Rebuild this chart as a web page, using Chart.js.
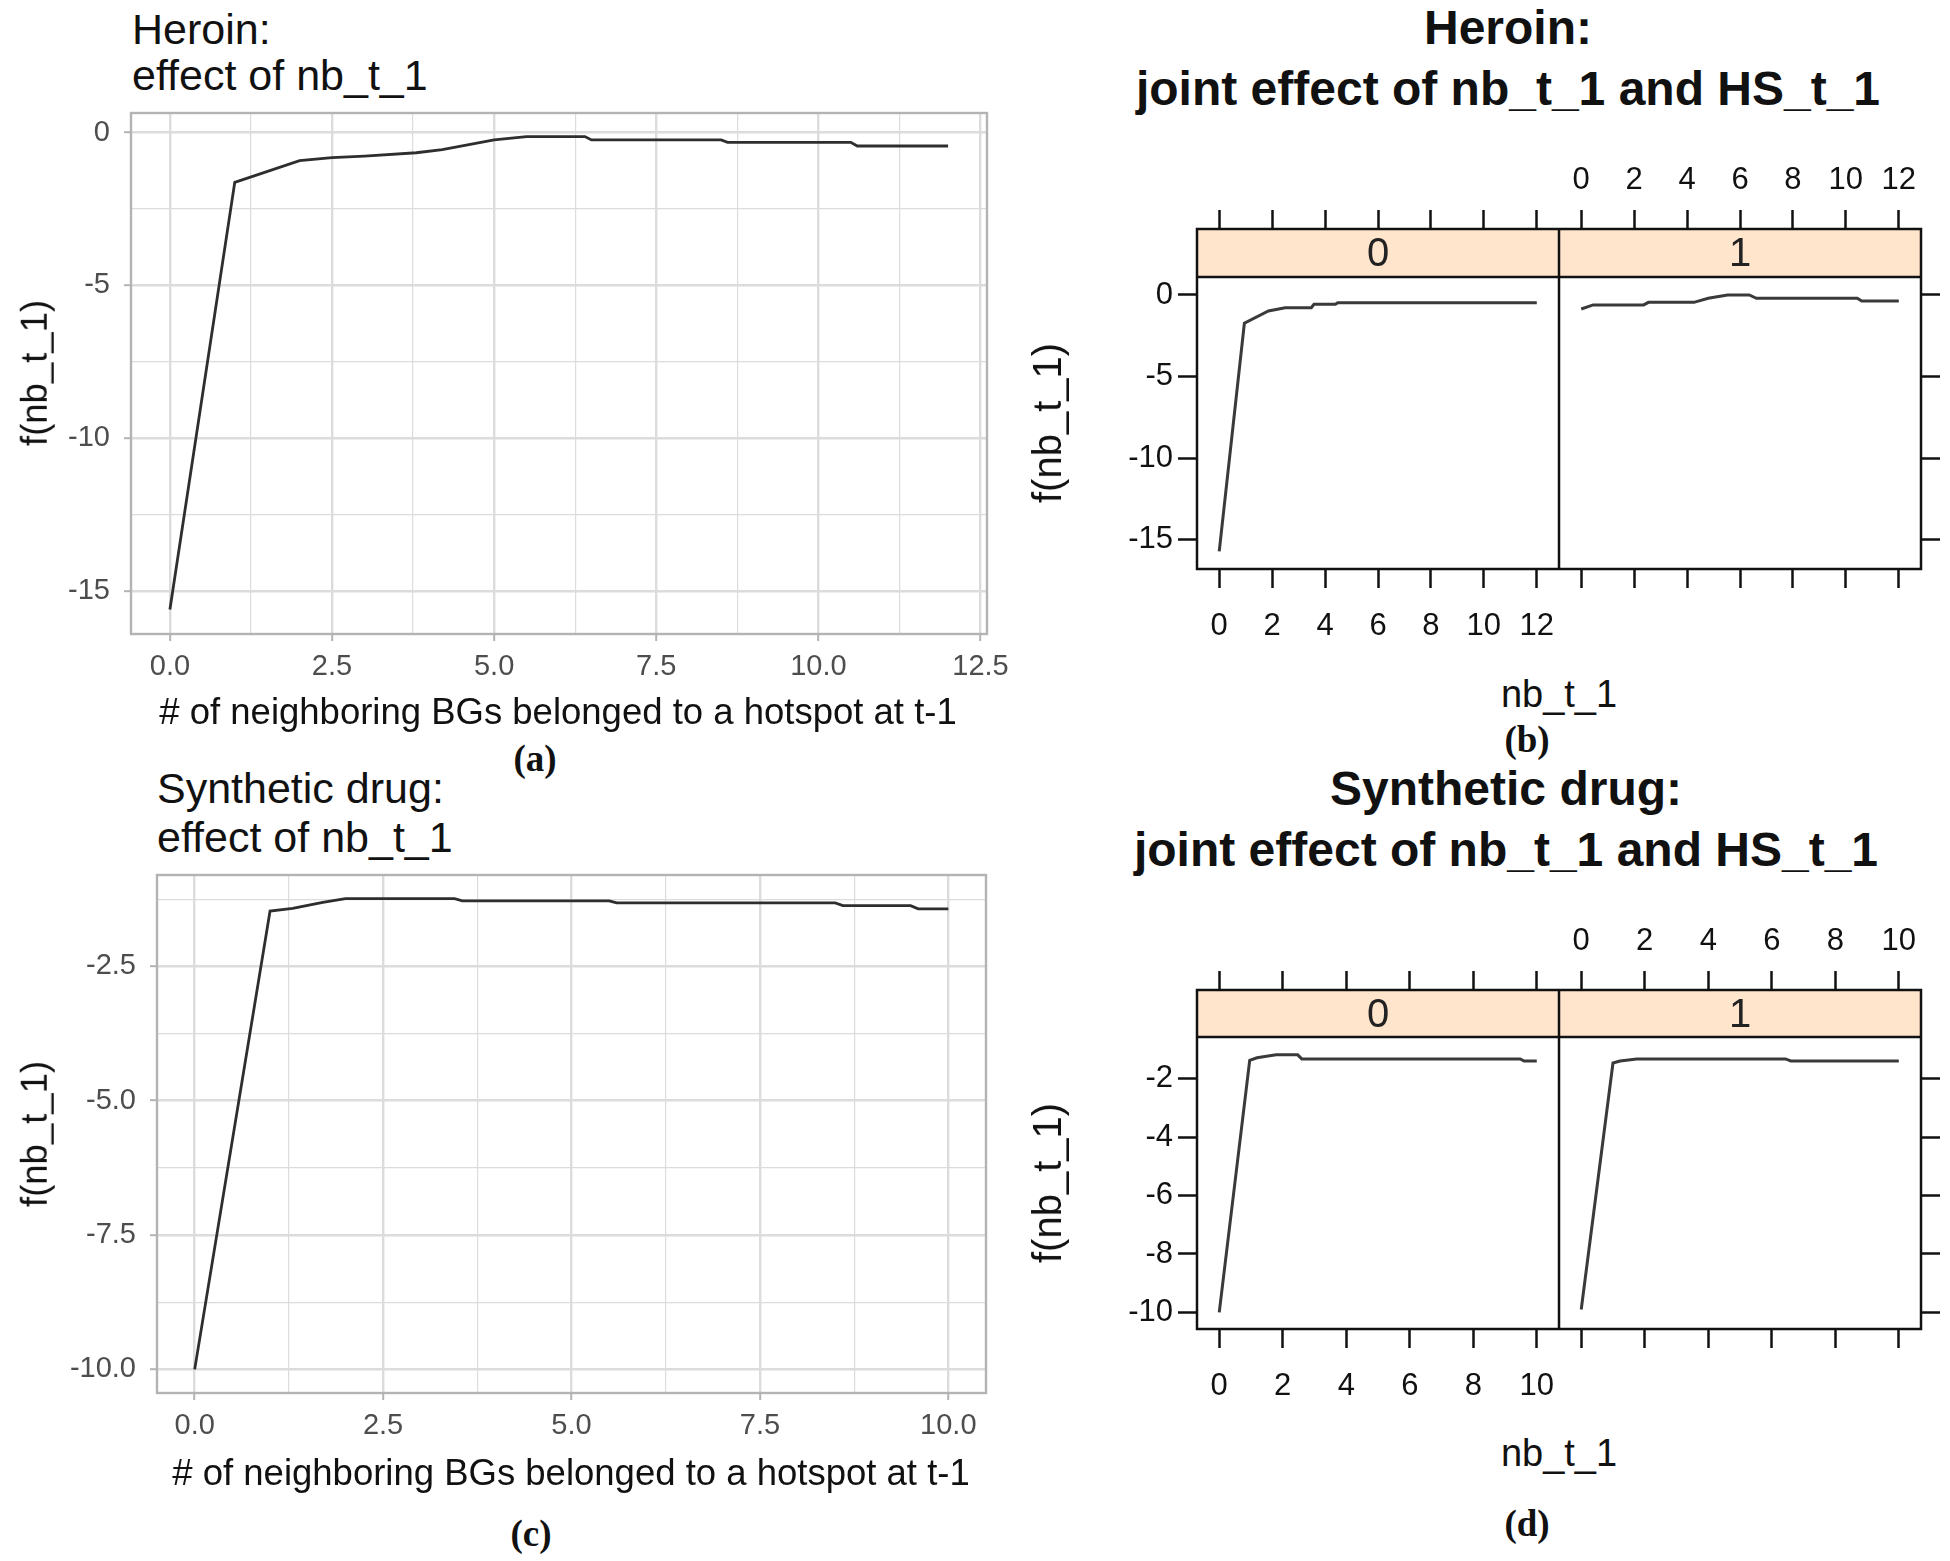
<!DOCTYPE html>
<html>
<head>
<meta charset="utf-8">
<script src="https://cdn.jsdelivr.net/npm/chart.js@4.4.0/dist/chart.umd.min.js"></script>
<style>
html, body { margin: 0; padding: 0; background: #fff; }
#page { position: relative; width: 1950px; height: 1561px; overflow: hidden; background: #fff; }
canvas { position: absolute; }
.t { position: absolute; white-space: nowrap; line-height: 1; font-family: "Liberation Sans", Arial, sans-serif; color: #111; }
</style>
</head>
<body>
<div id="page"></div>
<script>
// ---- data ----
// (a) Heroin, effect of nb_t_1
var heroinNbX = [0, 1, 2, 2.5, 3, 3.8, 4.2, 5, 5.5, 6.4, 6.5, 8.5, 8.6, 10.5, 10.6, 12];
var heroinNbY = [-15.6, -1.63, -0.92, -0.82, -0.77, -0.66, -0.56, -0.24, -0.13, -0.13, -0.24, -0.24, -0.32, -0.32, -0.44, -0.44];
// (b) Heroin, joint effect, HS_t_1 = 0 / 1
var heroinHs0X = [0, 0.95, 1.86, 2.49, 3.48, 3.58, 4.39, 4.48, 12];
var heroinHs0Y = [-15.7, -1.73, -0.98, -0.78, -0.78, -0.57, -0.57, -0.47, -0.47];
var heroinHs1X = [0, 0.45, 2.36, 2.54, 4.26, 4.8, 5.53, 6.35, 6.62, 10.43, 10.6, 12];
var heroinHs1Y = [-0.86, -0.61, -0.61, -0.45, -0.45, -0.2, 0, 0, -0.2, -0.2, -0.37, -0.37];
// (c) Synthetic drug, effect of nb_t_1
var synthNbX = [0, 1, 1.3, 1.7, 2, 3.45, 3.55, 5.5, 5.6, 8.5, 8.6, 9.5, 9.6, 10];
var synthNbY = [-10, -1.47, -1.42, -1.31, -1.24, -1.24, -1.28, -1.28, -1.32, -1.32, -1.37, -1.37, -1.43, -1.43];
// (d) Synthetic drug, joint effect, HS_t_1 = 0 / 1
var synthHs0X = [0, 0.96, 1.19, 1.79, 2.47, 2.6, 9.48, 9.6, 10];
var synthHs0Y = [-10, -1.37, -1.28, -1.18, -1.18, -1.32, -1.32, -1.39, -1.39];
var synthHs1X = [0, 1.0, 1.22, 1.75, 6.43, 6.6, 10];
var synthHs1Y = [-9.9, -1.46, -1.39, -1.32, -1.32, -1.39, -1.39];

// tick values
var xTicksA = [0, 2.5, 5, 7.5, 10, 12.5];
var yTicksA = [0, -5, -10, -15];
var xTicksC = [0, 2.5, 5, 7.5, 10];
var yTicksC = [-2.5, -5, -7.5, -10];
var xTicksB = [0, 2, 4, 6, 8, 10, 12];
var yTicksB = [0, -5, -10, -15];
var xTicksD = [0, 2, 4, 6, 8, 10];
var yTicksD = [-2, -4, -6, -8, -10];
var stripLabels = ['0', '1'];

var SANS = '"Liberation Sans", Arial, sans-serif';
Chart.defaults.font.family = SANS;
var page = document.getElementById('page');

function makeCanvas(left, top, w, h) {
  var c = document.createElement('canvas');
  c.width = w; c.height = h;
  c.style.left = left + 'px'; c.style.top = top + 'px';
  c.style.width = w + 'px'; c.style.height = h + 'px';
  page.appendChild(c);
  return c;
}

function pts(xs, ys) {
  return xs.map(function (x, i) { return { x: x, y: ys[i] }; });
}

function isIn(v, arr) {
  return arr.some(function (a) { return Math.abs(a - v) < 1e-6; });
}

// major ticks plus ggplot style minor grid positions inside the range
function withMinors(major, min, max) {
  var step = Math.abs(major[1] - major[0]);
  var lo = Math.min.apply(null, major), hi = Math.max.apply(null, major);
  var out = major.slice();
  for (var v = lo - step / 2; v <= hi + step / 2 + 1e-9; v += step) {
    if (v > min && v < max) out.push(v);
  }
  return out;
}

function fixSize(prop, val) {
  return function (s) {
    s[prop] = val;
    s.paddingLeft = 0; s.paddingRight = 0; s.paddingTop = 0; s.paddingBottom = 0;
  };
}

var borderPlugin = {
  id: 'frame',
  afterDraw: function (chart, args, o) {
    var a = chart.chartArea, ctx = chart.ctx;
    ctx.save();
    if (o.stripH) {
      ctx.fillStyle = '#ffe5cc';
      ctx.fillRect(a.left, a.top, a.right - a.left, o.stripH);
      ctx.strokeStyle = o.color; ctx.lineWidth = o.width;
      ctx.beginPath();
      ctx.moveTo(a.left, a.top + o.stripH); ctx.lineTo(a.right, a.top + o.stripH);
      ctx.stroke();
      ctx.fillStyle = '#222';
      ctx.font = '40px ' + SANS;
      ctx.textAlign = 'center'; ctx.textBaseline = 'middle';
      ctx.fillText(o.stripText, (a.left + a.right) / 2, a.top + o.stripH / 2 + 2);
    }
    ctx.strokeStyle = o.color; ctx.lineWidth = o.width;
    ctx.strokeRect(a.left, a.top, a.right - a.left, a.bottom - a.top);
    ctx.restore();
  }
};

// ggplot style panel (theme_light look)
function ggPanel(box, xs, ys, xr, yr, xMajor, yMajor, xFmt, yFmt) {
  var m = { l: box.left, t: 10, r: 45, b: 70 };
  var c = makeCanvas(box.left - m.l, box.top - m.t, box.width + m.l + m.r, box.height + m.t + m.b);
  var xAll = withMinors(xMajor, xr[0], xr[1]);
  var yAll = withMinors(yMajor, yr[0], yr[1]);
  function grid(major) {
    return {
      color: '#dcdcdc',
      lineWidth: function (ctx) { return isIn(ctx.tick.value, major) ? 2.4 : 1.2; },
      tickLength: 7,
      tickWidth: 2,
      tickColor: function (ctx) { return isIn(ctx.tick.value, major) ? '#b3b3b3' : 'rgba(0,0,0,0)'; }
    };
  }
  new Chart(c, {
    type: 'scatter',
    data: { datasets: [{ data: pts(xs, ys), showLine: true, borderColor: '#2e2e2e', borderWidth: 2.8, pointRadius: 0, tension: 0 }] },
    options: {
      responsive: false, animation: false, devicePixelRatio: 1,
      layout: { padding: { top: m.t, right: m.r, left: 0, bottom: 0 } },
      plugins: { legend: { display: false }, tooltip: { enabled: false }, frame: { color: '#b3b3b3', width: 2.4 } },
      scales: {
        x: {
          type: 'linear', position: 'bottom', min: xr[0], max: xr[1],
          afterBuildTicks: function (s) { s.ticks = xAll.map(function (v) { return { value: v }; }); },
          afterFit: fixSize('height', m.b),
          ticks: {
            autoSkip: false, maxRotation: 0, padding: 11, color: '#4d4d4d',
            font: { size: 29, lineHeight: 1 },
            callback: function (v) { return isIn(v, xMajor) ? xFmt(v) : ''; }
          },
          grid: grid(xMajor), border: { display: false }
        },
        y: {
          type: 'linear', position: 'left', min: yr[0], max: yr[1],
          afterBuildTicks: function (s) { s.ticks = yAll.map(function (v) { return { value: v }; }); },
          afterFit: fixSize('width', m.l),
          ticks: {
            autoSkip: false, padding: 14, color: '#4d4d4d',
            font: { size: 29, lineHeight: 1 },
            callback: function (v) { return isIn(v, yMajor) ? yFmt(v) : ''; }
          },
          grid: grid(yMajor), border: { display: false }
        }
      }
    },
    plugins: [borderPlugin]
  });
}

// lattice style sub panel with strip on top
function latPanel(area, side, xs, ys, xr, yr, xMajor, yMajor, stripText, stripH) {
  var m = { l: side === 'left' ? 110 : 0, r: side === 'right' ? 45 : 0, t: 80, b: 90 };
  var c = makeCanvas(area.left - m.l, area.top - m.t, area.width + m.l + m.r, area.height + m.t + m.b);
  var tickGrid = { drawOnChartArea: false, tickLength: 19, tickWidth: 2.5, tickColor: '#111' };
  var tickFont = { size: 31, lineHeight: 1 };
  function lab(show) { return function (v) { return show ? String(v) : ''; }; }
  var yScale = {
    type: 'linear', position: side, min: yr[0], max: yr[1],
    afterBuildTicks: function (s) { s.ticks = yMajor.map(function (v) { return { value: v }; }); },
    afterFit: fixSize('width', side === 'left' ? m.l : m.r),
    ticks: { autoSkip: false, padding: 5, color: '#111', font: tickFont, callback: lab(side === 'left') },
    grid: tickGrid, border: { display: false }
  };
  new Chart(c, {
    type: 'scatter',
    data: { datasets: [{ data: pts(xs, ys), showLine: true, borderColor: '#3a3a3a', borderWidth: 3, pointRadius: 0, tension: 0, xAxisID: 'x', yAxisID: 'y' }] },
    options: {
      responsive: false, animation: false, devicePixelRatio: 1,
      layout: { padding: 0 },
      plugins: { legend: { display: false }, tooltip: { enabled: false },
        frame: { color: '#111', width: 2.5, stripH: stripH, stripText: stripText } },
      scales: {
        x: {
          type: 'linear', position: 'bottom', min: xr[0], max: xr[1],
          afterBuildTicks: function (s) { s.ticks = xMajor.map(function (v) { return { value: v }; }); },
          afterFit: fixSize('height', m.b),
          ticks: { autoSkip: false, maxRotation: 0, padding: 23, color: '#111', font: tickFont, callback: lab(side === 'left') },
          grid: tickGrid, border: { display: false }
        },
        x2: {
          type: 'linear', position: 'top', min: xr[0], max: xr[1],
          afterBuildTicks: function (s) { s.ticks = xMajor.map(function (v) { return { value: v }; }); },
          afterFit: fixSize('height', m.t),
          ticks: { autoSkip: false, maxRotation: 0, padding: 14, color: '#111', font: tickFont, callback: lab(side === 'right') },
          grid: tickGrid, border: { display: false }
        },
        y: yScale
      }
    },
    plugins: [borderPlugin]
  });
}

function fmt1(v) { return v.toFixed(1); }
function fmt0(v) { return String(Math.round(v)); }

// (a)
ggPanel({ left: 131, top: 113, width: 856, height: 521 }, heroinNbX, heroinNbY,
  [-0.6, 12.6], [-16.4, 0.64], xTicksA, yTicksA, fmt1, fmt0);
// (c)
ggPanel({ left: 157, top: 875, width: 829, height: 518 }, synthNbX, synthNbY,
  [-0.5, 10.5], [-10.44, -0.8], xTicksC, yTicksC, fmt1, fmt1);
// (b)
latPanel({ left: 1197, top: 229, width: 362, height: 340 }, 'left', heroinHs0X, heroinHs0Y,
  [-0.84, 12.84], [-16.78, 4.04], xTicksB, yTicksB, stripLabels[0], 48);
latPanel({ left: 1559, top: 229, width: 362, height: 340 }, 'right', heroinHs1X, heroinHs1Y,
  [-0.84, 12.84], [-16.78, 4.04], xTicksB, yTicksB, stripLabels[1], 48);
// (d)
latPanel({ left: 1197, top: 990, width: 362, height: 339 }, 'left', synthHs0X, synthHs0Y,
  [-0.7, 10.7], [-10.57, 1.04], xTicksD, yTicksD, stripLabels[0], 47);
latPanel({ left: 1559, top: 990, width: 362, height: 339 }, 'right', synthHs1X, synthHs1Y,
  [-0.7, 10.7], [-10.57, 1.04], xTicksD, yTicksD, stripLabels[1], 47);

// ---- text ----
function addText(txt, x, y, o) {
  var d = document.createElement('div');
  d.className = 't';
  d.textContent = txt;
  d.style.fontSize = o.size + 'px';
  if (o.bold) d.style.fontWeight = 'bold';
  if (o.serif) d.style.fontFamily = '"Liberation Serif", "Times New Roman", serif';
  if (o.color) d.style.color = o.color;
  d.style.left = x + 'px';
  if (o.mode === 'center' || o.mode === 'rot') {
    d.style.top = y + 'px';
    d.style.transform = 'translate(-50%, -50%)' + (o.mode === 'rot' ? ' rotate(-90deg)' : '');
  } else {
    d.style.top = (y - 0.8465 * o.size) + 'px';
    if (o.mode === 'bc') d.style.transform = 'translateX(-50%)';
  }
  page.appendChild(d);
}

var XTITLE = '# of neighboring BGs belonged to a hotspot at t-1';
var YTITLE = 'f(nb_t_1)';

// (a)
addText('Heroin:', 132, 44, { size: 43, mode: 'bl' });
addText('effect of nb_t_1', 132, 90, { size: 43, mode: 'bl' });
addText(XTITLE, 558, 725, { size: 36.5, mode: 'bc' });
addText(YTITLE, 35, 373, { size: 36.5, mode: 'rot' });
addText('(a)', 535, 758, { size: 37, bold: true, serif: true, mode: 'center' });
// (c)
addText('Synthetic drug:', 157, 803, { size: 43, mode: 'bl' });
addText('effect of nb_t_1', 157, 852, { size: 43, mode: 'bl' });
addText(XTITLE, 571, 1486, { size: 36.5, mode: 'bc' });
addText(YTITLE, 35, 1134, { size: 36.5, mode: 'rot' });
addText('(c)', 531, 1533, { size: 37, bold: true, serif: true, mode: 'center' });
// (b)
addText('Heroin:', 1508, 45, { size: 48, bold: true, mode: 'bc' });
addText('joint effect of nb_t_1 and HS_t_1', 1508, 106, { size: 48, bold: true, mode: 'bc' });
addText(YTITLE, 1047, 423, { size: 40, mode: 'rot', color: '#111' });
addText('nb_t_1', 1559, 707, { size: 38, mode: 'bc' });
addText('(b)', 1527, 739, { size: 37, bold: true, serif: true, mode: 'center' });
// (d)
addText('Synthetic drug:', 1506, 806, { size: 48, bold: true, mode: 'bc' });
addText('joint effect of nb_t_1 and HS_t_1', 1506, 867, { size: 48, bold: true, mode: 'bc' });
addText(YTITLE, 1047, 1183, { size: 40, mode: 'rot', color: '#111' });
addText('nb_t_1', 1559, 1466, { size: 38, mode: 'bc' });
addText('(d)', 1527, 1523, { size: 37, bold: true, serif: true, mode: 'center' });
</script>
</body>
</html>
